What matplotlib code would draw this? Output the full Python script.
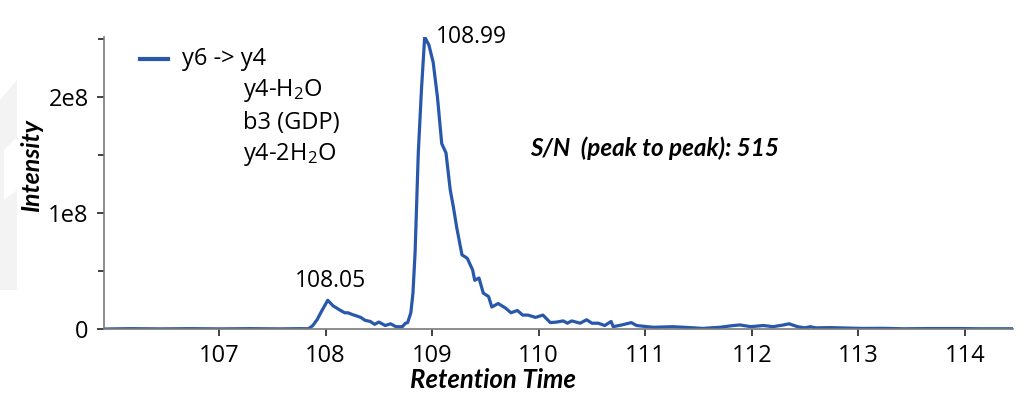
import numpy as np
import matplotlib.pyplot as plt
from matplotlib.patches import Polygon
from matplotlib.ticker import MultipleLocator, FuncFormatter

plt.rcParams['font.family'] = ['Open Sans', 'DejaVu Sans']
plt.rcParams['mathtext.fontset'] = 'custom'
plt.rcParams['mathtext.rm'] = 'Open Sans'
plt.rcParams['mathtext.it'] = 'Open Sans:italic'

# retention time (min) and intensity (x1e8)
rt = [105.92, 106.16, 106.45, 106.73, 107.01, 107.29, 107.57, 107.76, 107.84,
      107.88, 107.92, 107.96, 108.02, 108.07, 108.14, 108.18, 108.21, 108.25,
      108.30, 108.33, 108.37, 108.42, 108.46, 108.50, 108.56, 108.61, 108.66,
      108.72, 108.75, 108.77, 108.80, 108.82, 108.84, 108.87, 108.90, 108.93,
      108.97, 109.01, 109.05, 109.09, 109.13, 109.17, 109.20, 109.23, 109.28,
      109.33, 109.38, 109.40, 109.44, 109.48, 109.53, 109.56, 109.62, 109.69,
      109.74, 109.80, 109.85, 109.90, 109.97, 110.04, 110.11, 110.17, 110.23,
      110.27, 110.31, 110.39, 110.45, 110.50, 110.56, 110.62, 110.68, 110.70,
      110.78, 110.87, 110.92, 111.02, 111.08, 111.26, 111.42, 111.54, 111.70,
      111.83, 111.89, 111.99, 112.11, 112.20, 112.30, 112.35, 112.43, 112.50,
      112.55, 112.60, 112.74, 112.90, 113.05, 113.23, 113.42, 113.68, 113.93,
      114.15, 114.45]
intensity = [0.000, 0.003, 0.001, 0.003, 0.001, 0.003, 0.001, 0.003, 0.002,
             0.030, 0.080, 0.150, 0.248, 0.200, 0.160, 0.140, 0.140, 0.125,
             0.110, 0.100, 0.075, 0.065, 0.040, 0.060, 0.030, 0.045, 0.020,
             0.020, 0.050, 0.055, 0.140, 0.310, 0.660, 1.520, 2.070, 2.520,
             2.450, 2.300, 2.000, 1.600, 1.520, 1.200, 1.050, 0.880, 0.640,
             0.610, 0.510, 0.420, 0.440, 0.310, 0.280, 0.190, 0.220, 0.180,
             0.140, 0.160, 0.120, 0.120, 0.100, 0.120, 0.055, 0.060, 0.070,
             0.050, 0.070, 0.050, 0.080, 0.050, 0.050, 0.030, 0.065, 0.020,
             0.035, 0.055, 0.030, 0.020, 0.015, 0.020, 0.012, 0.005, 0.015,
             0.030, 0.035, 0.020, 0.030, 0.020, 0.035, 0.045, 0.020, 0.010,
             0.020, 0.010, 0.012, 0.008, 0.005, 0.006, 0.002, 0.004, 0.004,
             0.002, 0.002]
x_ticks = [107, 108, 109, 110, 111, 112, 113, 114]
legend_lines = ['y6 -> y4', 'y4-H$_2$O', 'b3 (GDP)', 'y4-2H$_2$O']

blue = '#2858ab'
grey = '#7a7a7a'
label_font = ['Lato', 'DejaVu Sans']

fig = plt.figure(figsize=(10.25, 4), dpi=100)

# faint watermark shape at the left edge
W, H = 1025, 400
mark = [(0, 100), (17, 80), (17, 137), (4, 150), (4, 200), (17, 190), (17, 290), (0, 290)]
fig.add_artist(Polygon([(x / W, 1 - y / H) for x, y in mark], closed=True,
                       transform=fig.transFigure, color='#f3f3f3', lw=0, zorder=0))

ax = fig.add_axes([0.1015, 0.1775, 0.8865, 0.73])
ax.patch.set_alpha(0)

ax.plot(rt, np.array(intensity) * 1e8, color=blue, lw=2.3, solid_joinstyle='round')
ax.set_xlim(105.92, 114.45)
ax.set_ylim(0, 2.52e8)

for s in ['top', 'right']:
    ax.spines[s].set_visible(False)
for s in ['left', 'bottom']:
    ax.spines[s].set_color(grey)
    ax.spines[s].set_linewidth(1.2)

ax.set_xticks(x_ticks)
ax.yaxis.set_major_locator(MultipleLocator(1e8))
ax.yaxis.set_minor_locator(MultipleLocator(0.5e8))
ax.yaxis.set_major_formatter(FuncFormatter(lambda v, p: '0' if v == 0 else '%de8' % round(v / 1e8)))
ax.tick_params(axis='both', which='major', labelsize=17, length=5, width=1.2,
               color='#222222', pad=6)
ax.tick_params(axis='y', which='minor', length=4, width=1.2, color='#222222')

ax.set_xlabel('Retention Time', fontsize=18.5, fontstyle='italic', fontweight='bold',
              family=label_font)
ax.xaxis.set_label_coords((493 - 104) / 909, -0.135)
ax.set_ylabel('Intensity', fontsize=18, fontstyle='italic', fontweight='bold',
              family=label_font)
ax.yaxis.set_label_coords(-0.067, 0.56)

# peak annotations
ax.text(108.05, 0.248e8 + 0.06e8, '108.05', fontsize=16.5, ha='center', va='bottom')
ax.text(108.99 + 0.05, 2.52e8, '108.99', fontsize=16.5, ha='left', va='center')

# legend-like block
fig.add_artist(plt.Line2D([140 / W, 168 / W], [1 - 59 / H, 1 - 59 / H],
                          color=blue, lw=3))
fig.text(182 / W, 1 - 59 / H, legend_lines[0], fontsize=17, va='center')
for i, t in enumerate(legend_lines[1:]):
    fig.text(243 / W, 1 - (91 + 32 * i) / H, t, fontsize=17, va='center')

fig.text(530 / W, 1 - 148 / H, 'S/N  (peak to peak): 515', fontsize=17.5,
         fontstyle='italic', fontweight='bold', va='center', family=label_font)

fig.savefig('out.png', dpi=100)
